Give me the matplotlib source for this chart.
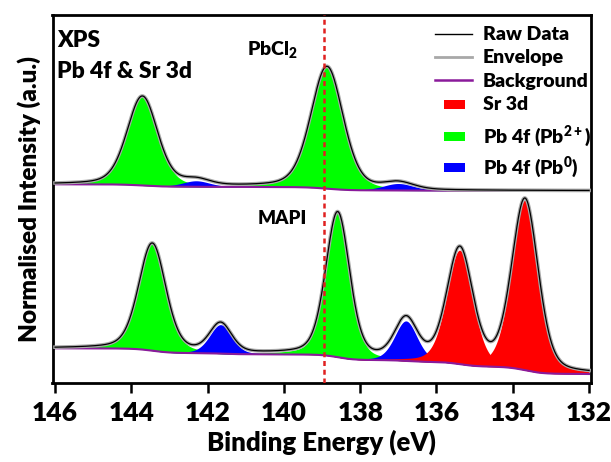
import numpy as np
import matplotlib
matplotlib.use("Agg")
import matplotlib.pyplot as plt
from matplotlib.lines import Line2D
from matplotlib.patches import Rectangle

plt.rcParams['font.family'] = ['Lato', 'DejaVu Sans']
plt.rcParams['mathtext.default'] = 'regular'

# ---- data (binding energy in eV, intensity in arbitrary units) ----
# PbCl2 (upper spectrum) fitted components: centre, height, FWHM
pbcl2_pb2_centers = [143.71, 138.87]
pbcl2_pb2_heights = [89, 122]
pbcl2_pb2_fwhm = [0.95, 1.0]
pbcl2_pb0_centers = [142.30, 137.00]
pbcl2_pb0_heights = [6, 7]
pbcl2_pb0_fwhm = [0.85, 0.95]
pbcl2_bg_left, pbcl2_bg_right = 198.7, 192.3

# MAPI (lower spectrum) fitted components
mapi_pb2_centers = [143.45, 138.59]
mapi_pb2_heights = [107, 144]
mapi_pb2_fwhm = [0.84, 0.74]
mapi_pb0_centers = [141.66, 136.80]
mapi_pb0_heights = [29, 40]
mapi_pb0_fwhm = [0.68, 0.70]
mapi_sr_centers = [135.39, 133.68]
mapi_sr_heights = [114, 170]
mapi_sr_fwhm = [0.80, 0.82]
mapi_bg_left, mapi_bg_right = 34.7, 9.0

ref_line_energy = 138.95
x_ticks = [146, 144, 142, 140, 138, 136, 134, 132]

legend_labels = ['Raw Data', 'Envelope', 'Background', 'Sr 3d',
                 'Pb 4f (Pb$^{2+}$)', 'Pb 4f (Pb$^{0}$)']

W = 'heavy'

# ---- helpers ----
E = np.linspace(146, 132, 1401)

def voigt(x, c, h, w, eta=0.3):
    d = (x - c) / w
    return h * (eta / (1 + 4 * d**2) + (1 - eta) * np.exp(-4 * np.log(2) * d**2))

def shirley(x, comps, left, right):
    tot = np.sum(comps, axis=0)
    cum = np.cumsum(tot[::-1])[::-1]
    cum = cum / cum[0]
    return right + (left - right) * cum

def build(groups, left, right):
    comps = []
    for cs, hs, ws, col in groups:
        for c, h, w in zip(cs, hs, ws):
            comps.append((voigt(E, c, h, w), col))
    bg = shirley(E, [p for p, _ in comps], left, right)
    return comps, bg

GREEN = '#00ff00'
BLUE = '#0000ff'
RED = '#ff0000'
PURPLE = '#8a1a9b'
GREY = '#a8a8a8'

FW, FH = 611, 462
fig = plt.figure(figsize=(FW/100, FH/100), dpi=100)
ax = fig.add_axes([52.5/FW, (FH-383)/FH, (591-52.5)/FW, (383-15)/FH])

spectra = [
    build([(pbcl2_pb2_centers, pbcl2_pb2_heights, pbcl2_pb2_fwhm, GREEN),
           (pbcl2_pb0_centers, pbcl2_pb0_heights, pbcl2_pb0_fwhm, BLUE)],
          pbcl2_bg_left, pbcl2_bg_right),
    build([(mapi_pb2_centers, mapi_pb2_heights, mapi_pb2_fwhm, GREEN),
           (mapi_pb0_centers, mapi_pb0_heights, mapi_pb0_fwhm, BLUE),
           (mapi_sr_centers, mapi_sr_heights, mapi_sr_fwhm, RED)],
          mapi_bg_left, mapi_bg_right),
]

for comps, bg in spectra:
    for p, col in comps:
        mask = p > 0.3
        ax.fill_between(E, bg, bg + p, where=mask, color=col, lw=0, zorder=1)
    env = bg + np.sum([p for p, _ in comps], axis=0)
    ax.plot(E, bg, color=PURPLE, lw=1.5, zorder=2)
    ax.plot(E, env, color=GREY, lw=2.6, zorder=3)
    ax.plot(E, env, color='black', lw=0.9, zorder=4)

ax.axvline(ref_line_energy, color='#e02020', lw=1.8, ls=(0, (2.0, 1.5)), zorder=5)

ax.set_xlim(146.066, 131.95)
ax.set_ylim(0, 368)
ax.set_yticks([])
ax.set_xticks(x_ticks)
ax.set_xticklabels([str(t) for t in x_ticks], fontsize=19, fontweight=W)
ax.tick_params(axis='x', direction='out', length=7, width=1.8, pad=6)
for s in ax.spines.values():
    s.set_linewidth(2.0)

ax.set_xlabel('Binding Energy (eV)', fontsize=18.5, fontweight=W, labelpad=3)
ax.set_ylabel('Normalised Intensity (a.u.)', fontsize=17.5, fontweight=W, labelpad=8)

ax.text(0.008, 0.932, 'XPS', transform=ax.transAxes, fontsize=16.5, fontweight=W,
        va='center', ha='left')
ax.text(0.008, 0.847, 'Pb 4f & Sr 3d', transform=ax.transAxes, fontsize=16.5,
        fontweight=W, va='center', ha='left')
ax.text(139.62, 383 - 49, 'PbCl$_2$', fontsize=14, fontweight=W,
        ha='right', va='center')
ax.text(139.4, 383 - 219, 'MAPI', fontsize=13.5, fontweight=W,
        ha='right', va='center')

# ---- legend drawn at fixed pixel rows (figure coordinates) ----
def fx(px):
    return px / FW

def fy(py):
    return 1 - py / FH

row_y = [34, 57, 80, 104, 136, 167]
handles = [('line', 'black', 1.0), ('line', GREY, 2.0), ('line', PURPLE, 1.8),
           ('patch', RED, None), ('patch', GREEN, None), ('patch', BLUE, None)]
for (kind, col, lw), lab, y in zip(handles, legend_labels, row_y):
    if kind == 'line':
        fig.add_artist(Line2D([fx(435), fx(472)], [fy(y), fy(y)], color=col, lw=lw))
    else:
        fig.add_artist(Rectangle((fx(444), fy(y + 4.5)), 21/FW, 9/FH,
                                 facecolor=col, edgecolor='none'))
    fig.text(fx(483), fy(y + 6.5), lab, fontsize=14, fontweight=W,
             ha='left', va='baseline')

fig.savefig('out.png', dpi=100)
